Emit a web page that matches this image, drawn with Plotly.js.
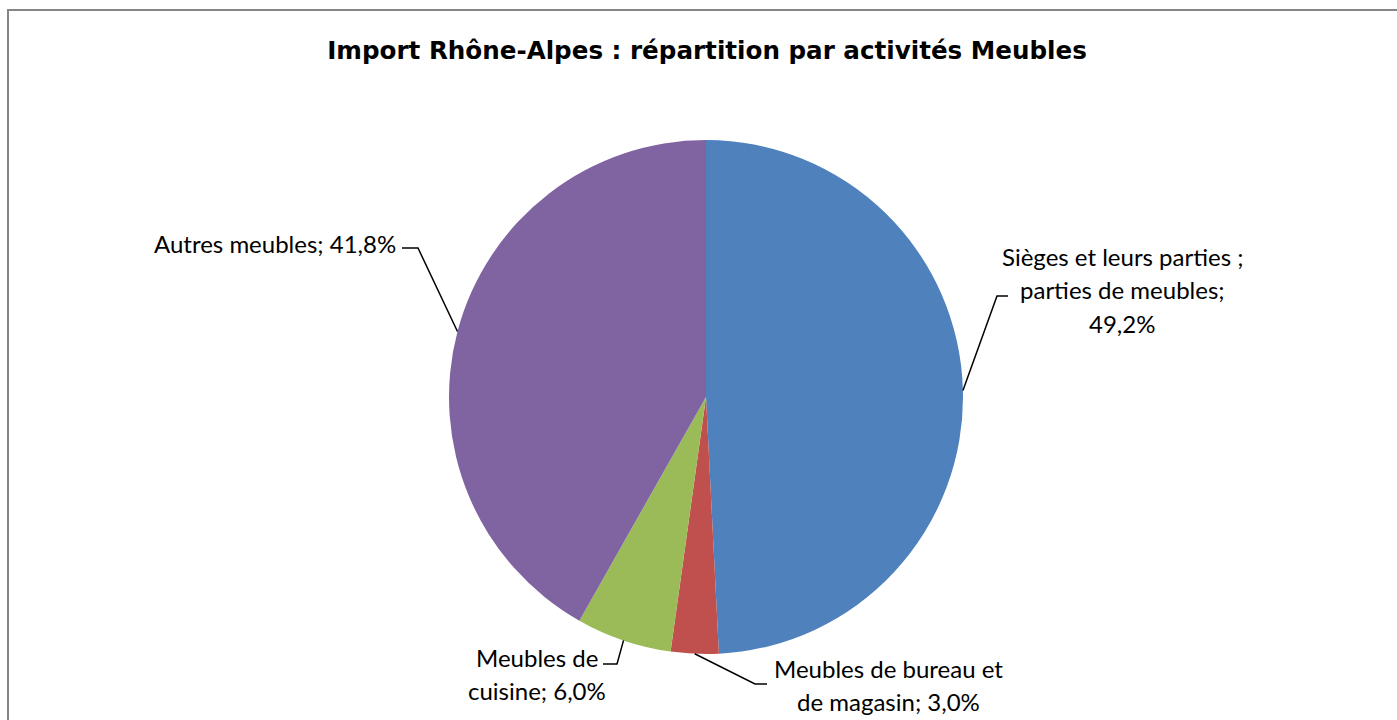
<!DOCTYPE html>
<html>
<head>
<meta charset="utf-8">
<script src="https://cdn.plot.ly/plotly-3.0.1.min.js"></script>
<style>html,body{margin:0;padding:0;background:#fff;}#chart{width:1397px;height:720px;}</style>
</head>
<body>
<div id="chart"></div>
<script>
// ---- data ----
const categories = [
  "Sièges et leurs parties ; parties de meubles",
  "Meubles de bureau et de magasin",
  "Meubles de cuisine",
  "Autres meubles"
];
const labelLines = [
  ["Sièges et leurs parties ;", "parties de meubles;", "49,2%"],
  ["Meubles de bureau et", "de magasin; 3,0%"],
  ["Meubles de", "cuisine; 6,0%"],
  ["Autres meubles; 41,8%"]
];
const values = [49.2, 3.0, 6.0, 41.8];
const colors = ["#4F81BD", "#C0504D", "#9BBB59", "#8064A2"];

// ---- layout constants (pixels) ----
const W = 1397, H = 720;
const cx = 706, cy = 397, R = 257;
const lineGap = 33.5;
// label placement: first line anchor and leader elbow/stub end
const labelPos = [
  {x: 1122, y: 256, xanchor: "center", elbow: [997, 296], stub: [1008, 296]},
  {x: 888, y: 668, xanchor: "center", elbow: [755, 684], stub: [767, 684]},
  {x: 537, y: 657, xanchor: "center", elbow: [617, 664], stub: [603, 664]},
  {x: 398, y: 243, xanchor: "right", elbow: [418, 248], stub: [402, 248]}
];
const labelFont = {family: "Lato, 'Open Sans', sans-serif", size: 24, color: "#000"};

const total = values.reduce((a, b) => a + b, 0);
let cum = 0;
const shapes = [];
const annotations = [];
values.forEach((v, i) => {
  const mid = (cum + v / 2) / total;
  cum += v;
  const ang = mid * 2 * Math.PI; // clockwise from top
  const ex = cx + R * Math.sin(ang);
  const ey = cy - R * Math.cos(ang);
  const lp = labelPos[i];
  shapes.push({
    type: "path", xref: "x", yref: "y",
    path: `M ${ex} ${ey} L ${lp.elbow[0]} ${lp.elbow[1]} L ${lp.stub[0]} ${lp.stub[1]}`,
    line: {color: "#000", width: 1.5}
  });
  labelLines[i].forEach((line, k) => {
    annotations.push({
      xref: "x", yref: "y", x: lp.x, y: lp.y + k * lineGap,
      xanchor: lp.xanchor, yanchor: "middle",
      text: line, showarrow: false, font: labelFont
    });
  });
});

// frame
shapes.push({type: "rect", xref: "x", yref: "y", x0: 8, y0: 10, x1: 1399, y1: 740,
  line: {color: "#868686", width: 2}, fillcolor: "rgba(0,0,0,0)", layer: "below"});

const data = [
  {
    type: "pie",
    labels: categories,
    values: values,
    marker: {colors: colors, line: {width: 0}},
    sort: false,
    direction: "clockwise",
    rotation: 0,
    textinfo: "none",
    hoverinfo: "label+percent",
    showlegend: false,
    domain: {x: [(cx - R) / W, (cx + R) / W], y: [(H - cy - R) / H, (H - cy + R) / H]}
  },
  {type: "scatter", x: [], y: [], xaxis: "x", yaxis: "y", showlegend: false, hoverinfo: "skip"}
];

const layout = {
  width: W, height: H,
  margin: {l: 0, r: 0, t: 0, b: 0},
  paper_bgcolor: "#fff", plot_bgcolor: "rgba(0,0,0,0)",
  title: {
    text: "<b>Import Rhône-Alpes : répartition par activités Meubles</b>",
    x: 707 / W, xanchor: "center", y: 1 - 50 / H, yanchor: "middle",
    font: {family: "'DejaVu Sans', sans-serif", size: 24.6, color: "#000"}
  },
  xaxis: {range: [0, W], visible: false, fixedrange: true, domain: [0, 1]},
  yaxis: {range: [H, 0], visible: false, fixedrange: true, domain: [0, 1]},
  shapes: shapes,
  annotations: annotations
};

Plotly.newPlot("chart", data, layout, {displayModeBar: false, staticPlot: true});
</script>
</body>
</html>
